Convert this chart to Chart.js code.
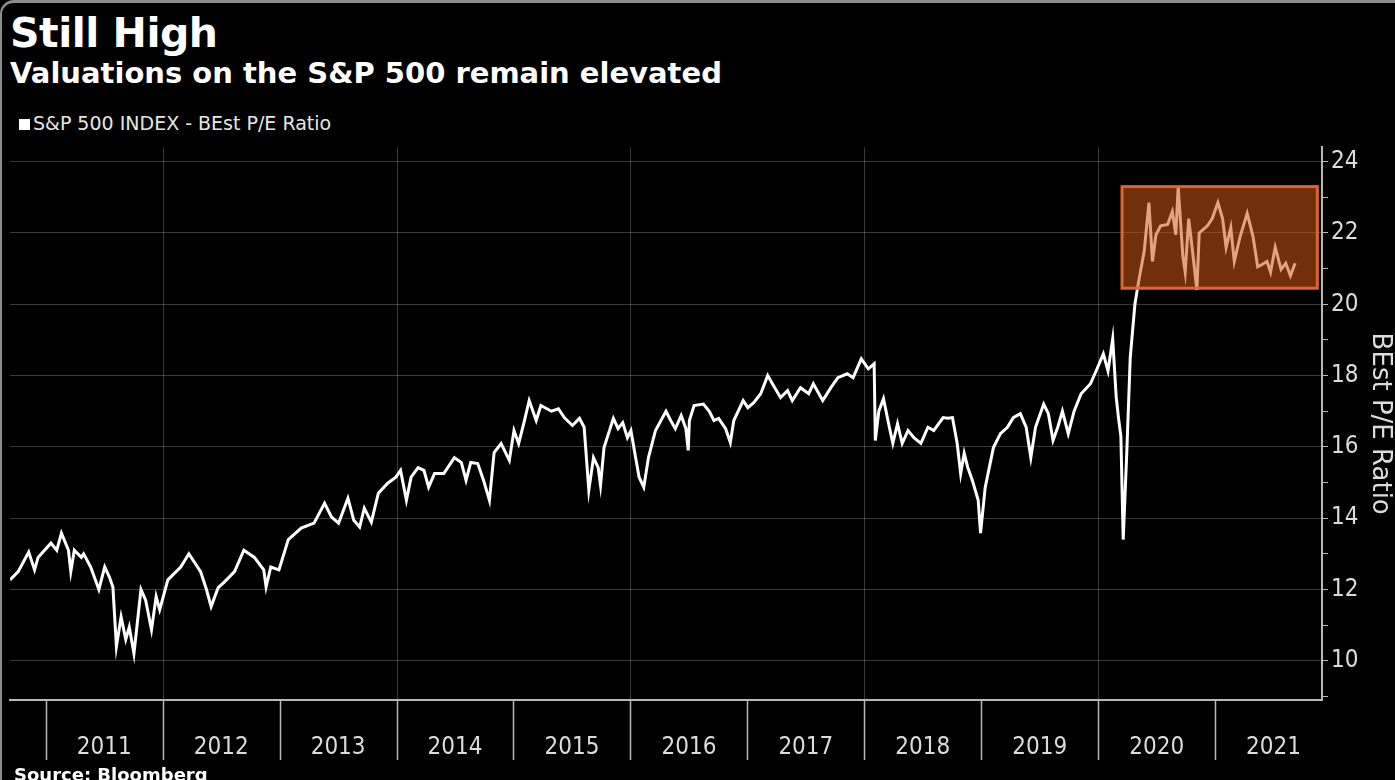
<!DOCTYPE html>
<html lang="en">
<head>
<meta charset="UTF-8">
<title>Still High</title>
<script src="https://cdn.jsdelivr.net/npm/chart.js"></script>
<style>
    html, body {
        margin: 0;
        padding: 0;
        background: #000;
    }
    body {
        width: 1395px;
        height: 780px;
        overflow: hidden;
        position: relative;
        color: #fff;
        font-family: "DejaVu Sans", sans-serif;
    }
    .frame {
        position: absolute;
        left: 0; top: 0; right: 0; bottom: -20px;
        border-top: 3px solid #8c8c8c;
        border-left: 2px solid #8c8c8c;
        border-top-left-radius: 14px;
        pointer-events: none;
    }
    h1 {
        position: absolute;
        left: 10px; top: 9px;
        margin: 0;
        font-size: 41px;
        font-weight: bold;
        letter-spacing: -0.5px;
    }
    h2 {
        position: absolute;
        left: 10px; top: 56px;
        margin: 0;
        font-size: 29px;
        font-weight: bold;
    }
    .legend {
        position: absolute;
        left: 19px; top: 112px;
        font-size: 19px;
        color: #e6e6e6;
    }
    .legend span {
        display: inline-block;
        width: 11px; height: 11px;
        background: #fff;
        margin-right: 3px;
    }
    .source {
        position: absolute;
        left: 14px; top: 764px;
        font-size: 18px;
        font-weight: bold;
    }
    #wrap {
        position: absolute;
        left: 0; top: 130px;
        width: 1395px; height: 650px;
    }
</style>
</head>
<body>
    <div class="frame"></div>
    <h1>Still High</h1>
    <h2>Valuations on the S&amp;P 500 remain elevated</h2>
    <div class="legend"><span></span>S&amp;P 500 INDEX - BEst P/E Ratio</div>
    <div id="wrap"><canvas id="chart"></canvas></div>
    <div class="source">Source: Bloomberg</div>

<script>
    // dates as decimal years
    const dates = [
        2010.69, 2010.76, 2010.85, 2010.90, 2010.93,
        2011.04, 2011.09, 2011.13, 2011.19, 2011.21, 2011.24, 2011.30, 2011.32, 2011.38, 2011.45,
        2011.50, 2011.54, 2011.57, 2011.60, 2011.64, 2011.68, 2011.71, 2011.75, 2011.81, 2011.85,
        2011.90, 2011.94, 2011.97,
        2012.04, 2012.15, 2012.22, 2012.26, 2012.32, 2012.37, 2012.41, 2012.47, 2012.52, 2012.61,
        2012.69, 2012.78, 2012.86, 2012.88, 2012.92, 2012.99,
        2013.07, 2013.18, 2013.29, 2013.38, 2013.44, 2013.50, 2013.58, 2013.63, 2013.68, 2013.72,
        2013.78, 2013.84, 2013.92, 2013.99,
        2014.03, 2014.08, 2014.12, 2014.18, 2014.23, 2014.27, 2014.32, 2014.40, 2014.49, 2014.55,
        2014.59, 2014.63, 2014.69, 2014.74, 2014.79, 2014.83, 2014.89, 2014.96,
        2015.00, 2015.04, 2015.09, 2015.13, 2015.19, 2015.23, 2015.32, 2015.38, 2015.43, 2015.50,
        2015.56, 2015.60, 2015.64, 2015.68, 2015.72, 2015.74, 2015.77, 2015.85, 2015.89, 2015.93,
        2015.97,
        2016.00, 2016.04, 2016.07, 2016.11, 2016.15, 2016.21, 2016.30, 2016.34, 2016.38, 2016.43,
        2016.47, 2016.49, 2016.50, 2016.54, 2016.62, 2016.67, 2016.71, 2016.75, 2016.81, 2016.85,
        2016.88, 2016.96,
        2017.00, 2017.05, 2017.11, 2017.17, 2017.21, 2017.28, 2017.34, 2017.38, 2017.45, 2017.52,
        2017.56, 2017.64, 2017.71, 2017.77, 2017.85, 2017.90, 2017.97,
        2018.03, 2018.08, 2018.09, 2018.12, 2018.16, 2018.21, 2018.24, 2018.28, 2018.32, 2018.37,
        2018.42, 2018.48, 2018.54, 2018.59, 2018.67, 2018.71, 2018.75, 2018.79, 2018.82, 2018.85,
        2018.88, 2018.92, 2018.97, 2018.99,
        2019.03, 2019.10, 2019.16, 2019.22, 2019.27, 2019.33, 2019.38, 2019.42, 2019.46, 2019.53,
        2019.57, 2019.61, 2019.65, 2019.69, 2019.74, 2019.79, 2019.85, 2019.93, 2019.99,
        2020.04, 2020.08, 2020.12, 2020.15, 2020.17, 2020.19, 2020.21, 2020.24, 2020.27, 2020.31,
        2020.34, 2020.39, 2020.43, 2020.46, 2020.49, 2020.53, 2020.59, 2020.63, 2020.66, 2020.68,
        2020.72, 2020.74, 2020.77, 2020.80, 2020.84, 2020.86, 2020.93, 2020.97,
        2021.02, 2021.06, 2021.09, 2021.13, 2021.16, 2021.21, 2021.27, 2021.32, 2021.36, 2021.39,
        2021.44, 2021.47, 2021.51, 2021.56, 2021.60, 2021.64, 2021.68
    ];

    const peRatio = [
        12.27, 12.5, 13.05, 12.55, 12.9,
        13.3, 13.1, 13.58, 13.1, 12.5, 13.1, 12.9, 13.0, 12.63, 12.0,
        12.63, 12.35, 12.07, 10.4, 11.23, 10.6, 10.95, 10.2, 12.0, 11.7,
        10.87, 11.8, 11.43,
        12.27, 12.63, 13.0, 12.8, 12.5, 12.0, 11.52, 12.05, 12.2, 12.5,
        13.1, 12.9, 12.55, 12.07, 12.63, 12.55,
        13.4, 13.72, 13.86, 14.42, 14.03, 13.86, 14.56, 13.94, 13.75, 14.28,
        13.89, 14.7, 14.98, 15.15,
        15.34, 14.5, 15.15, 15.42, 15.34, 14.87, 15.25, 15.25, 15.7, 15.56,
        15.06, 15.56, 15.53, 15.06, 14.5, 15.84, 16.09, 15.62,
        16.46, 16.09, 16.74, 17.3, 16.74, 17.16, 17.0, 17.07, 16.82, 16.6,
        16.8, 16.55, 14.78, 15.7, 15.42, 14.92, 15.98, 16.8, 16.51, 16.68,
        16.26,
        16.46, 15.7, 15.15, 14.87, 15.7, 16.46, 17.0, 16.74, 16.51, 16.88,
        16.51, 15.9, 16.74, 17.16, 17.2, 17.0, 16.74, 16.8, 16.51, 16.12,
        16.74, 17.3,
        17.1, 17.24, 17.49, 18.0, 17.77, 17.38, 17.58, 17.3, 17.66, 17.49,
        17.77, 17.3, 17.66, 17.94, 18.05, 17.94, 18.47,
        18.19, 18.33, 16.18, 17.0, 17.35, 16.55, 16.1, 16.65, 16.1, 16.46,
        16.26, 16.1, 16.55, 16.46, 16.82, 16.8, 16.82, 16.1, 15.25, 15.82,
        15.43, 15.06, 14.5, 13.58,
        14.87, 15.98, 16.37, 16.55, 16.82, 16.93, 16.55, 15.7, 16.55, 17.2,
        16.93, 16.18, 16.55, 17.0, 16.37, 17.0, 17.49, 17.77, 18.22,
        18.61, 18.13, 19.03, 17.4, 16.8, 16.3, 13.4, 15.8, 18.5, 20.0,
        20.6, 21.5, 22.85, 21.2, 21.95, 22.2, 22.24, 22.6, 21.95, 23.3,
        21.35, 20.9, 22.4, 21.57, 20.4, 22.0, 22.2, 22.4,
        22.85, 22.4, 21.6, 22.15, 21.2, 21.9, 22.55, 21.9, 21.05, 21.1,
        21.2, 20.9, 21.6, 20.98, 21.15, 20.8, 21.15
    ];

    const yearTicks = [2011, 2012, 2013, 2014, 2015, 2016, 2017, 2018, 2019, 2020, 2021];
    const valueTicks = [9, 10, 11, 12, 13, 14, 15, 16, 17, 18, 19, 20, 21, 22, 23, 24];

    // highlighted zone (orange box)
    const boxYears = [2020.20, 2021.87];
    const boxValues = [20.45, 23.3];

    const condensed = '"DejaVu Sans Condensed", "DejaVu Sans", sans-serif';

    const highlightBox = {
        id: 'highlightBox',
        afterDatasetsDraw(chart) {
            const { ctx, scales: { x, y } } = chart;
            const l = x.getPixelForValue(boxYears[0]);
            const r = x.getPixelForValue(boxYears[1]);
            const t = y.getPixelForValue(boxValues[1]);
            const b = y.getPixelForValue(boxValues[0]);
            ctx.save();
            ctx.fillStyle = 'rgba(205, 85, 20, 0.55)';
            ctx.fillRect(l, t, r - l, b - t);
            ctx.strokeStyle = '#e2662a';
            ctx.lineWidth = 3;
            ctx.strokeRect(l, t, r - l, b - t);
            ctx.restore();
        }
    };

    const ctx = document.getElementById('chart').getContext('2d');
    new Chart(ctx, {
        type: 'line',
        data: {
            datasets: [{
                label: 'S&P 500 INDEX - BEst P/E Ratio',
                data: dates.map((d, i) => ({ x: d, y: peRatio[i] })),
                borderColor: '#ffffff',
                borderWidth: 3,
                pointRadius: 0,
                tension: 0
            }]
        },
        options: {
            responsive: true,
            maintainAspectRatio: false,
            animation: false,
            layout: { padding: { left: 10, top: 15, right: 0, bottom: 0 } },
            plugins: {
                legend: { display: false },
                tooltip: { enabled: false }
            },
            scales: {
                x: {
                    type: 'linear',
                    position: 'bottom',
                    min: 2010.69,
                    max: 2021.91,
                    afterBuildTicks: s => { s.ticks = yearTicks.map(v => ({ value: v })); },
                    afterFit: s => { s.height = 80; },
                    border: { display: true, color: '#b8b8b8', width: 2 },
                    grid: {
                        color: c => (c.tick && c.tick.value % 2 === 0) ? 'rgba(255,255,255,0.22)' : 'rgba(0,0,0,0)',
                        tickColor: '#b8b8b8',
                        tickWidth: 1.5,
                        tickLength: 60
                    },
                    ticks: {
                        color: '#dcdcdc',
                        font: { family: condensed, size: 24 },
                        padding: -27,
                        labelOffset: 58,
                        maxRotation: 0,
                        autoSkip: false,
                        callback: v => String(v)
                    }
                },
                y: {
                    position: 'right',
                    min: 8.9,
                    max: 24.4,
                    afterBuildTicks: s => { s.ticks = valueTicks.map(v => ({ value: v })); },
                    afterFit: s => { s.width = 73; },
                    border: { display: true, color: '#b8b8b8', width: 2 },
                    grid: {
                        color: c => (c.tick && c.tick.value % 2 === 0) ? 'rgba(255,255,255,0.22)' : 'rgba(0,0,0,0)',
                        tickColor: '#b8b8b8',
                        tickLength: 6
                    },
                    ticks: {
                        color: '#dcdcdc',
                        font: { family: condensed, size: 24 },
                        padding: 3,
                        callback: v => (v % 2 === 0 ? String(v) : '')
                    },
                    title: {
                        display: true,
                        text: 'BEst P/E Ratio',
                        color: '#dcdcdc',
                        font: { family: '"DejaVu Sans", sans-serif', size: 26 },
                        padding: { top: 0, bottom: 0 }
                    }
                }
            }
        },
        plugins: [highlightBox]
    });
</script>
</body>
</html>
